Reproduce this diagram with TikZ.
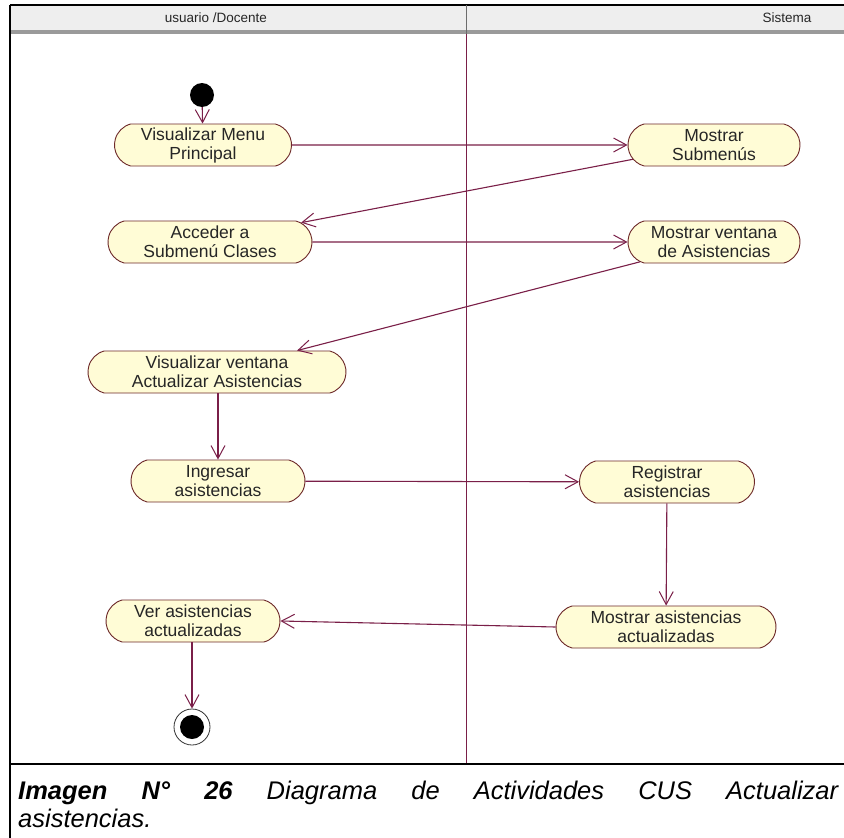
\documentclass[tikz,border=0pt]{standalone}
\usepackage{fontspec}
\setmainfont{Liberation Sans}
\usetikzlibrary{shapes.misc,arrows.meta}
\definecolor{ln}{HTML}{7A1F48}
\definecolor{nodefill}{HTML}{FFFCD6}
\definecolor{nodeborder}{HTML}{6E2A2A}
\definecolor{hdr}{HTML}{EEEEEE}
\definecolor{hdrband}{HTML}{9A9A9A}
\begin{document}
\begin{tikzpicture}[x=1pt,y=-1pt,
  act/.style={rounded rectangle, rounded rectangle arc length=150, draw=nodeborder, fill=nodefill, line width=0.9pt,
    align=center, inner sep=0pt, minimum height=42pt, font=\fontsize{17.5}{19}\selectfont, text=black!85},
  flow/.style={draw=ln, line width=1.1pt, -{Straight Barb[length=13pt,width=14pt,line width=1pt]}},
  hdrtext/.style={font=\fontsize{13.5}{15}\selectfont, text=black!85}]
\useasboundingbox (0,0) rectangle (844,838);
\fill[white] (0,0) rectangle (844,838);
% swimlane frame
\fill[hdr] (10,5) rectangle (844,30);
\fill[hdrband] (10,30) rectangle (844,34);
\draw[line width=1.3pt] (10,5) -- (844,5);
\draw[line width=1.2pt] (10,5) -- (10,838);
\draw[hdrband!70!black, line width=1pt] (466,5) -- (466,34);
\draw[ln, line width=0.8pt] (466,34) -- (466,764);
\draw[line width=1.2pt] (10,764) -- (844,764);
\node[hdrtext] (h1) at (216,18) {usuario /Docente};
\node[hdrtext] (h2) at (787,18) {Sistema};
% nodes
\node[circle, fill=black, minimum size=24pt, inner sep=0pt] (start) at (202,95) {};
\node[act, minimum width=177pt] (vmp) at (203,145) {Visualizar Menu\\Principal};
\node[act, minimum width=172pt] (ms) at (714,145) {Mostrar\\Submenús};
\node[act, minimum width=204pt] (acc) at (210,242) {Acceder a\\Submenú Clases};
\node[act, minimum width=172pt] (mva) at (714,242) {Mostrar ventana\\de Asistencias};
\node[act, minimum width=258pt] (vva) at (217,372) {Visualizar ventana\\Actualizar Asistencias};
\node[act, minimum width=174pt] (ing) at (218,481) {Ingresar\\asistencias};
\node[act, minimum width=175pt] (reg) at (667,482) {Registrar\\asistencias};
\node[act, minimum width=220pt] (maa) at (666,627) {Mostrar asistencias\\actualizadas};
\node[act, minimum width=174pt] (ver) at (193,621) {Ver asistencias\\actualizadas};
\node[circle, draw=black!80, line width=0.8pt, minimum size=36pt, inner sep=0pt] (end) at (192,727) {};
\node[circle, fill=black, minimum size=24pt, inner sep=0pt] (endin) at (end.center) {};
% flows
\draw[flow] (start) -- (vmp);
\draw[flow] (vmp) -- (ms);
\draw[flow] (ms.190) -- (acc.12);
\draw[flow] (acc) -- (mva);
\draw[flow] (mva.195) -- (vva.15);
\draw[flow] (vva.south -| ing.north) -- (ing.north);
\draw[flow] (ing) -- (reg);
\draw[flow] (reg) -- (maa);
\draw[flow] (maa.west) -- (ver.east);
\draw[flow] (ver.south -| end.north) -- (end.north);
% caption
\node[anchor=north west, text width=820pt, inner sep=0pt, align=justify,
  font=\fontsize{25.5}{28}\selectfont\itshape] (cap) at (18,781)
  {\textbf{Imagen N° 26} Diagrama de Actividades CUS Actualizar\linebreak asistencias.};
\end{tikzpicture}
\end{document}
